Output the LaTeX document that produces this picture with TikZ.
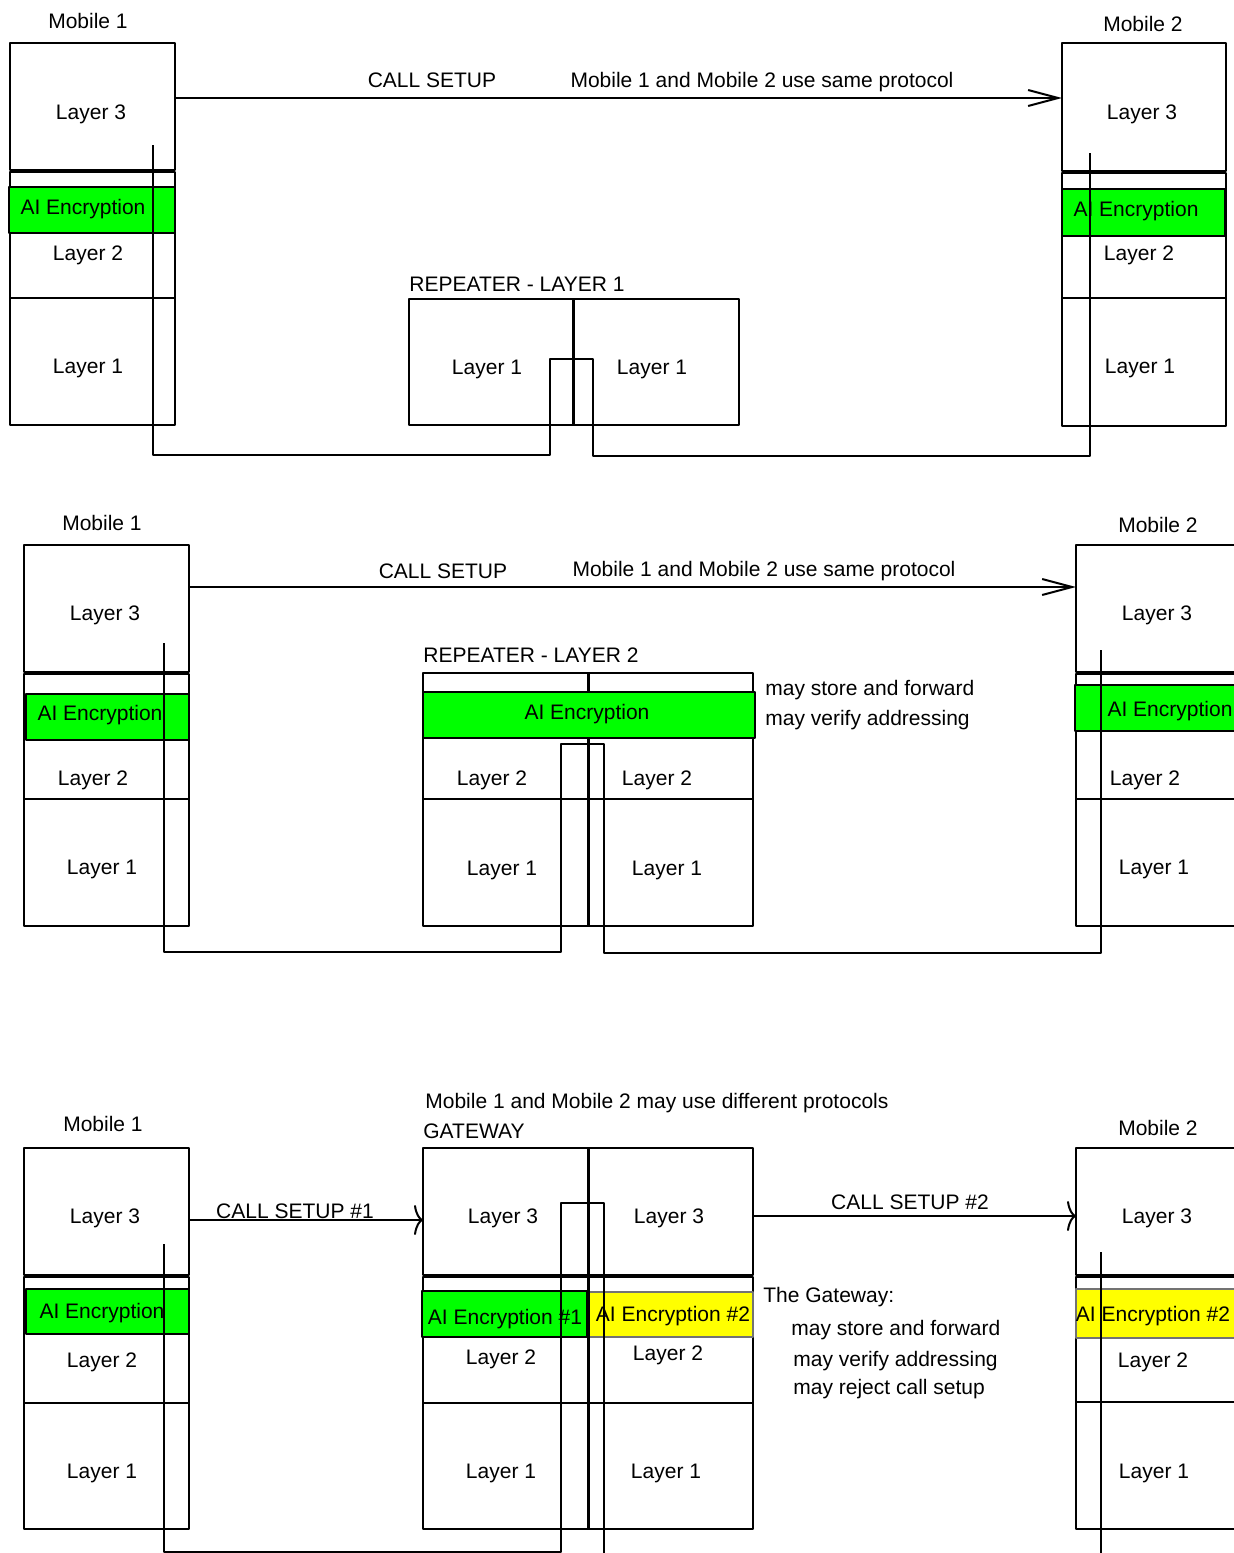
\documentclass[tikz,border=0pt]{standalone}
\usepackage{fontspec}
\setmainfont{Liberation Sans}
\usetikzlibrary{arrows.meta}
\definecolor{qqffqq}{rgb}{0.,1.,0.}
\definecolor{ffffqq}{rgb}{1.,1.,0.}
\definecolor{sqsqsq}{rgb}{0.45,0.45,0.45}
\tikzset{every node/.style={font=\fontsize{10.5}{12.6}\selectfont,inner sep=0pt,text depth=0pt},
  box/.style={line width=1pt},
  wire/.style={line width=1pt},
  mid/.style={line width=1.5pt},
  band/.style={line width=1pt,draw=black,fill=qqffqq},
  yband/.style={line width=0.6pt,draw=sqsqsq,fill=ffffqq},
  setup/.style={line width=1pt,-{Straight Barb[length=15pt,width=8pt]}},
  setupgw/.style={line width=1pt,-{Computer Modern Rightarrow[length=4.5pt,width=15pt]}}}

\begin{document}
\begin{tikzpicture}[line join=round,x=0.5pt,y=-0.5pt]
                \useasboundingbox (0,0) rectangle (1234,1553);
                \clip (0,0) rectangle (1234,1553);
                % top: repeater layer 1
                \draw[box] (10,43) rectangle (175,170);
                \draw[box] (10,172) rectangle (175,298);
                \draw[box] (10,298) rectangle (175,425);
                \filldraw[band] (9,187) rectangle (175,233);
                \node (a1) at (88,21) {Mobile 1};
                \node (a1l3) at (91,112) {Layer 3};
                \node (a1ai) at (83,207) {AI Encryption};
                \node (a1l2) at (88,253) {Layer 2};
                \node (a1l1) at (88,366) {Layer 1};
                \draw[box] (1062,43) rectangle (1226,171);
                \draw[box] (1062,173) rectangle (1226,298);
                \draw[box] (1062,298) rectangle (1226,426);
                \filldraw[band] (1062,189) rectangle (1225,236);
                \node (a2) at (1143,24) {Mobile 2};
                \node (a2l3) at (1142,112) {Layer 3};
                \node (a2ai) at (1136,209) {AI Encryption};
                \node (a2l2) at (1139,253) {Layer 2};
                \node (a2l1) at (1140,366) {Layer 1};
                \draw[box] (409,299) rectangle (739,425);
                \draw[mid] (573,299) -- (573,425);
                \node[anchor=west] (arep) at (409,284) {REPEATER - LAYER 1};
                \node (arepl) at (487,367) {Layer 1};
                \node (arepr) at (652,367) {Layer 1};
                \coordinate (as) at (175,98);
                \coordinate (ae) at (1062,98);
                \draw[setup] (as) -- (ae);
                \node (acall) at (432,80) {CALL SETUP};
                \node (anote) at (762,80) {Mobile 1 and Mobile 2 use same protocol};
                \coordinate (aw1) at (153,145);
                \coordinate (aw2) at (573,359);
                \coordinate (aw3) at (1090,153);
                \draw[wire] (aw1) |- (550,455) |- (aw2);
                \draw[wire] (aw2) -| (593,456) -| (aw3);
                % middle: repeater layer 2
                \draw[box] (24,545) rectangle (189,672);
                \draw[box] (24,674) rectangle (189,799);
                \draw[box] (24,799) rectangle (189,926);
                \filldraw[band] (26,694) rectangle (189,740);
                \node (b1) at (102,523) {Mobile 1};
                \node (b1l3) at (105,613) {Layer 3};
                \node (b1ai) at (100,713) {AI Encryption};
                \node (b1l2) at (93,778) {Layer 2};
                \node (b1l1) at (102,867) {Layer 1};
                \draw[box] (1076,545) rectangle (1250,672);
                \draw[box] (1076,674) rectangle (1250,799);
                \draw[box] (1076,799) rectangle (1250,926);
                \filldraw[band] (1075,685) rectangle (1250,731);
                \node (b2) at (1158,525) {Mobile 2};
                \node (b2l3) at (1157,613) {Layer 3};
                \node (b2ai) at (1170,709) {AI Encryption};
                \node (b2l2) at (1145,778) {Layer 2};
                \node (b2l1) at (1154,867) {Layer 1};
                \draw[box] (423,673) rectangle (753,926);
                \draw[box] (423,799) -- (753,799);
                \draw[mid] (588,673) -- (588,926);
                \filldraw[band] (423,692) rectangle (755,738);
                \node[anchor=west] (brep) at (423,655) {REPEATER - LAYER 2};
                \node (brepai) at (587,712) {AI Encryption};
                \node (brepl2) at (492,778) {Layer 2};
                \node (brepr2) at (657,778) {Layer 2};
                \node (brepl1) at (502,868) {Layer 1};
                \node (brepr1) at (667,868) {Layer 1};
                \node[anchor=west] (bsf) at (765,688) {may store and forward};
                \node[anchor=west] (bva) at (765,718) {may verify addressing};
                \coordinate (bs) at (189,587);
                \coordinate (be) at (1076,587);
                \draw[setup] (bs) -- (be);
                \node (bcall) at (443,571) {CALL SETUP};
                \node (bnote) at (764,569) {Mobile 1 and Mobile 2 use same protocol};
                \coordinate (bw1) at (164,643);
                \coordinate (bw2) at (588,744);
                \coordinate (bw3) at (1101,650);
                \draw[wire] (bw1) |- (561,952) |- (bw2);
                \draw[wire] (bw2) -| (604,953) -| (bw3);
                % bottom: gateway
                \node[anchor=west] (cnote) at (425,1101) {Mobile 1 and Mobile 2 may use different protocols};
                \node[anchor=west] (cgw) at (423,1131) {GATEWAY};
                \draw[box] (24,1148) rectangle (189,1275);
                \draw[box] (24,1277) rectangle (189,1403);
                \draw[box] (24,1403) rectangle (189,1529);
                \filldraw[band] (26,1289) rectangle (189,1334);
                \node (c1) at (103,1124) {Mobile 1};
                \node (c1l3) at (105,1216) {Layer 3};
                \node (c1ai) at (102,1311) {AI Encryption};
                \node (c1l2) at (102,1360) {Layer 2};
                \node (c1l1) at (102,1471) {Layer 1};
                \draw[box] (423,1148) rectangle (753,1275);
                \draw[box] (423,1277) rectangle (753,1403);
                \draw[box] (423,1403) rectangle (753,1529);
                \filldraw[band] (422,1291) rectangle (587,1337);
                \filldraw[yband] (588,1292) rectangle (753,1337);
                \draw[mid] (588,1148) -- (588,1529);
                \node (cgl3) at (503,1216) {Layer 3};
                \node (cgr3) at (669,1216) {Layer 3};
                \node (cgai1) at (505,1317) {AI Encryption \#1};
                \node (cgai2) at (673,1314) {AI Encryption \#2};
                \node (cgl2) at (501,1357) {Layer 2};
                \node (cgr2) at (668,1353) {Layer 2};
                \node (cgl1) at (501,1471) {Layer 1};
                \node (cgr1) at (666,1471) {Layer 1};
                \node[anchor=west] (cgt) at (763,1295) {The Gateway:};
                \node[anchor=west] (cgsf) at (791,1328) {may store and forward};
                \node[anchor=west] (cgva) at (793,1359) {may verify addressing};
                \node[anchor=west] (cgrc) at (793,1387) {may reject call setup};
                \draw[box] (1076,1148) rectangle (1250,1275);
                \draw[box] (1076,1277) rectangle (1250,1402);
                \draw[box] (1076,1402) rectangle (1250,1529);
                \filldraw[yband] (1076,1289) rectangle (1250,1338);
                \node (c2) at (1158,1128) {Mobile 2};
                \node (c2l3) at (1157,1216) {Layer 3};
                \node (c2ai) at (1153,1314) {AI Encryption \#2};
                \node (c2l2) at (1153,1360) {Layer 2};
                \node (c2l1) at (1154,1471) {Layer 1};
                \coordinate (cs1) at (189,1220);
                \coordinate (ce1) at (423,1220);
                \coordinate (cs2) at (753,1216);
                \coordinate (ce2) at (1076,1216);
                \draw[setupgw] (cs1) -- (ce1);
                \draw[setupgw] (cs2) -- (ce2);
                \node (ccall1) at (295,1211) {CALL SETUP \#1};
                \node (ccall2) at (910,1202) {CALL SETUP \#2};
                \coordinate (cw1) at (164,1244);
                \coordinate (cw2) at (588,1203);
                \coordinate (cw3) at (1101,1252);
                \draw[wire] (cw1) |- (561,1552) |- (cw2);
                \draw[wire] (cw2) -| (604,1575) -| (cw3);
\end{tikzpicture}
\end{document}
